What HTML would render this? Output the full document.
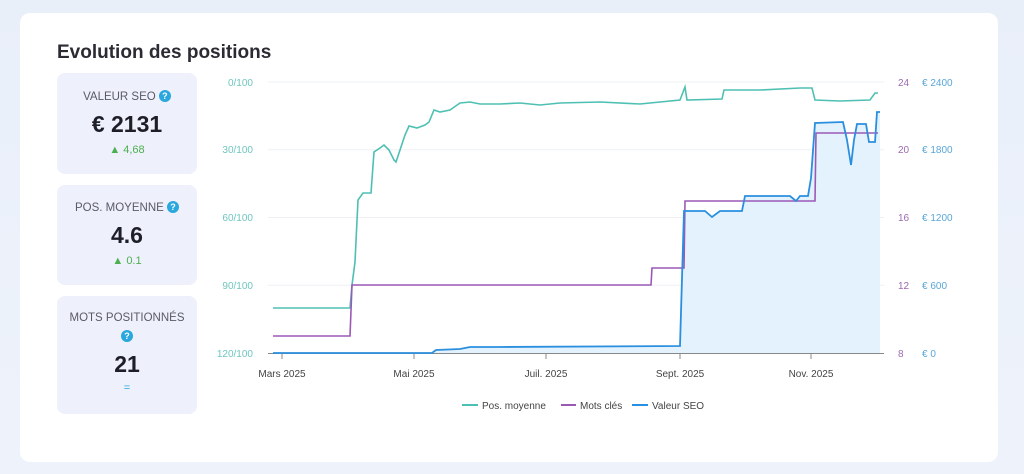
<!DOCTYPE html>
<html><head><meta charset="utf-8"><style>
body{margin:0;width:1024px;height:474px;background:linear-gradient(180deg,#e9eff9,#eef3fb);font-family:"Liberation Sans",sans-serif;overflow:hidden;position:relative}
.card{position:absolute;left:20px;top:13px;width:978px;height:449px;background:#fff;border-radius:10px}
h1{position:absolute;left:57px;top:42px;margin:0;font-size:19px;font-weight:bold;color:#2b2b33}
.k{position:absolute;left:57px;width:140px;background:#eef0fb;border-radius:8px;text-align:center;color:#555}
.lab{font-size:11.5px;color:#5a5a66}
.q{display:inline-block;width:12px;height:12px;border-radius:50%;background:#2aa7dd;color:#fff;font-size:9px;line-height:12px;font-weight:bold;vertical-align:1px}
.v{font-size:23px;font-weight:bold;color:#1e1e28}
.d{font-size:11px;color:#4caf50}
</style></head><body>
<div class="card"></div>
<h1>Evolution des positions</h1>
<div class="k" style="top:73px;height:101px"><div class="lab" style="margin-top:17px">VALEUR SEO <span class="q">?</span></div><div class="v" style="margin-top:8px">€ 2131</div><div class="d" style="margin-top:6px">▲ 4,68</div></div>
<div class="k" style="top:185px;height:100px"><div class="lab" style="margin-top:16px">POS. MOYENNE <span class="q">?</span></div><div class="v" style="margin-top:8px">4.6</div><div class="d" style="margin-top:6px">▲ 0.1</div></div>
<div class="k" style="top:296px;height:118px"><div class="lab" style="margin-top:16px">MOTS POSITIONNÉS</div><div style="margin-top:3px"><span class="q">?</span></div><div class="v" style="margin-top:6px">21</div><div class="d" style="color:#2aa7dd;margin-top:4px">=</div></div>
<svg width="1024" height="474" style="position:absolute;left:0;top:0" font-family="Liberation Sans,sans-serif">
<g stroke="#eef0f3" stroke-width="1">
<line x1="268" x2="884" y1="82" y2="82"/><line x1="268" x2="884" y1="149.75" y2="149.75"/><line x1="268" x2="884" y1="217.5" y2="217.5"/><line x1="268" x2="884" y1="285.25" y2="285.25"/></g>
<g font-size="10" fill="#6fc6c0" text-anchor="end">
<text x="253" y="86">0/100</text><text x="253" y="153">30/100</text><text x="253" y="221">60/100</text><text x="253" y="289">90/100</text><text x="253" y="357">120/100</text></g>
<g font-size="10" fill="#9b6bb0"><text x="898" y="86">24</text><text x="898" y="153">20</text><text x="898" y="221">16</text><text x="898" y="289">12</text><text x="898" y="357">8</text></g>
<g font-size="10" fill="#5aa6d8"><text x="922" y="86">€ 2400</text><text x="922" y="153">€ 1800</text><text x="922" y="221">€ 1200</text><text x="922" y="289">€ 600</text><text x="922" y="357">€ 0</text></g>
<path d="M273 353 L432 353 L436 350 L460 349 L470 347 L500 347 L680 346 L684 211 L705 211 L712 217 L720 211 L742 211 L745 196 L790 196 L796 201 L800 196 L808 196 L811 178 L815 123 L843 122 L847 140 L851 165 L854 140 L857 124 L866 124 L869 142 L875 142 L877 112 L880 112 L880 353 Z" fill="#e3f2fd"/>
<line x1="268" x2="884" y1="353.5" y2="353.5" stroke="#888" stroke-width="1"/>
<g stroke="#888"><line x1="282" x2="282" y1="353" y2="359"/><line x1="414" x2="414" y1="353" y2="359"/><line x1="546" x2="546" y1="353" y2="359"/><line x1="680" x2="680" y1="353" y2="359"/><line x1="811" x2="811" y1="353" y2="359"/></g>
<g font-size="10" fill="#444" text-anchor="middle"><text x="282" y="377">Mars 2025</text><text x="414" y="377">Mai 2025</text><text x="546" y="377">Juil. 2025</text><text x="680" y="377">Sept. 2025</text><text x="811" y="377">Nov. 2025</text></g>
<path d="M273 308 L350 308 L352 285 L355 262 L358 200 L363 193 L371 193 L374 152 L380 148 L384 145 L389 150 L394 160 L396 162 L400 150 L405 135 L409 126 L417 128 L425 125 L429 122 L434 110 L440 112 L450 110 L460 103 L470 102 L480 104 L500 104 L520 103 L540 105 L560 103 L600 102 L640 104 L680 100 L685 87 L687 100 L722 99 L724 90 L760 90 L800 88 L812 88 L815 100 L840 101 L870 100 L875 93 L878 93" fill="none" stroke="#4ec0b3" stroke-width="1.6"/>
<path d="M273 336 L350 336 L352 285 L651 285 L652 268 L684 268 L685 201 L815 201 L816 133 L878 133" fill="none" stroke="#9b59b6" stroke-width="1.6"/>
<path d="M273 353 L432 353 L436 350 L460 349 L470 347 L500 347 L680 346 L684 211 L705 211 L712 217 L720 211 L742 211 L745 196 L790 196 L796 201 L800 196 L808 196 L811 178 L815 123 L843 122 L847 140 L851 165 L854 140 L857 124 L866 124 L869 142 L875 142 L877 112 L880 112" fill="none" stroke="#2a8fde" stroke-width="1.8"/>
<g font-size="10" fill="#444">
<line x1="462" x2="478" y1="405" y2="405" stroke="#4ec0b3" stroke-width="2"/><text x="482" y="409">Pos. moyenne</text>
<line x1="561" x2="576" y1="405" y2="405" stroke="#9b59b6" stroke-width="2"/><text x="580" y="409">Mots clés</text>
<line x1="632" x2="648" y1="405" y2="405" stroke="#2a8fde" stroke-width="2"/><text x="652" y="409">Valeur SEO</text></g>
</svg>
</body></html>
